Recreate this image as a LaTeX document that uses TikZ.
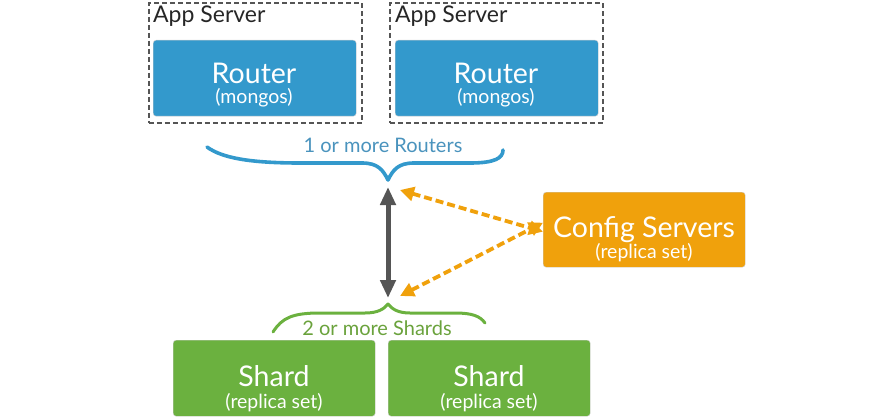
\documentclass[tikz,border=0pt]{standalone}
\usepackage{fontspec}
\setmainfont{Lato}
\usetikzlibrary{arrows.meta}
\definecolor{mblue}{HTML}{3399CC}
\definecolor{bluetxt}{HTML}{4A93BD}
\definecolor{mgreen}{HTML}{6BB13F}
\definecolor{greentxt}{HTML}{6AA23C}
\definecolor{morange}{HTML}{F0A10C}
\definecolor{dgray}{HTML}{555555}
\begin{document}
\begin{tikzpicture}[x=1pt,y=-1pt,
  appbox/.style={draw=dgray, dash pattern=on 5pt off 3pt, line width=1.8pt, anchor=north west, minimum width=213pt, minimum height=120pt, inner sep=0pt},
  fillbox/.style={rounded corners=3pt, anchor=north west, inner sep=0pt, draw=white!80!black, line width=0.4pt},
  routerbox/.style={fillbox, fill=mblue, minimum width=203pt, minimum height=76pt},
  shardbox/.style={fillbox, fill=mgreen, minimum width=202pt, minimum height=76pt},
  cfgbox/.style={fillbox, fill=morange, minimum width=202pt, minimum height=75pt},
  bigtxt/.style={text=white, anchor=base, font=\fontsize{28.5}{30}\selectfont, inner sep=0pt},
  smalltxt/.style={text=white, anchor=base, font=\fontsize{19.5}{21}\selectfont, inner sep=0pt},
  braceblue/.style={draw=mblue, line width=3.6pt, line cap=round, line join=round},
  bracegreen/.style={draw=mgreen, line width=3pt, line cap=round, line join=round},
  grayarrow/.style={draw=dgray, line width=5pt, {Triangle[length=18pt,width=15pt]}-{Triangle[length=18pt,width=15pt]}},
  orangearrow/.style={draw=morange, line width=3.8pt, dash pattern=on 8pt off 4pt, {Triangle[length=14pt,width=14pt]}-{Triangle[length=14pt,width=14pt]}}
]
\useasboundingbox (0,0) rectangle (893,417);
% App servers
\node[appbox] (app1) at (148,2) {};
\node[appbox] (app2) at (389,2) {};
\node[anchor=base west, inner sep=0pt, text=black!85, font=\fontsize{23}{25}\selectfont] (applbl1) at (153,23) {App Server};
\node[anchor=base west, inner sep=0pt, text=black!85, font=\fontsize{23}{25}\selectfont] (applbl2) at (395,23) {App Server};
% Routers
\node[routerbox] (r1) at (153,40) {};
\node[routerbox] (r2) at (395,40) {};
\node[bigtxt] (r1t) at (254,84) {Router};
\node[smalltxt] (r1s) at (254,104) {(mongos)};
\node[bigtxt] (r2t) at (496,84) {Router};
\node[smalltxt] (r2s) at (496,104) {(mongos)};
% blue brace
\node[anchor=base, inner sep=0pt, text=bluetxt, font=\fontsize{20}{22}\selectfont] (rlbl) at (383,152) {1 or more Routers};
\coordinate (btip) at (388,180);
\draw[braceblue] (207,147) .. controls (222,158) and (250,163) .. (300,163)
  -- (362,163) .. controls (378,163) and (383,170) .. (btip)
  .. controls (393,170) and (398,163) .. (414,163)
  -- (470,163) .. controls (495,163) and (503,158) .. (503,150);
% green brace
\node[anchor=base, inner sep=0pt, text=greentxt, font=\fontsize{20}{22}\selectfont] (slbl) at (377,335) {2 or more Shards};
\coordinate (gtip) at (388,304);
\draw[bracegreen] (273,332) .. controls (282,318) and (292,313) .. (320,313)
  -- (365,313) .. controls (378,313) and (384,309) .. (gtip)
  .. controls (392,309) and (398,313) .. (410,313)
  -- (455,313) .. controls (472,313) and (480,316) .. (485,323);
% gray arrow
\coordinate (gtop) at (388,187);
\coordinate (gbot) at (388,298);
\draw[grayarrow] (gtop) -- (gbot);
% config servers
\node[cfgbox] (cfg) at (543,192) {};
\node[bigtxt] (cfgt) at (644,237) {Config Servers};
\node[smalltxt] (cfgs) at (644,258) {(replica set)};
\coordinate (otop) at (400,190);
\coordinate (obot) at (400,296);
\draw[orangearrow] (otop) -- ([yshift=-2pt]cfg.west);
\draw[orangearrow] (obot) -- ([yshift=7pt]cfg.west);
% shards
\node[shardbox] (s1) at (173,340) {};
\node[shardbox] (s2) at (388,340) {};
\node[bigtxt] (s1t) at (274,386) {Shard};
\node[smalltxt] (s1s) at (274,408) {(replica set)};
\node[bigtxt] (s2t) at (489,386) {Shard};
\node[smalltxt] (s2s) at (489,408) {(replica set)};
\end{tikzpicture}
\end{document}
